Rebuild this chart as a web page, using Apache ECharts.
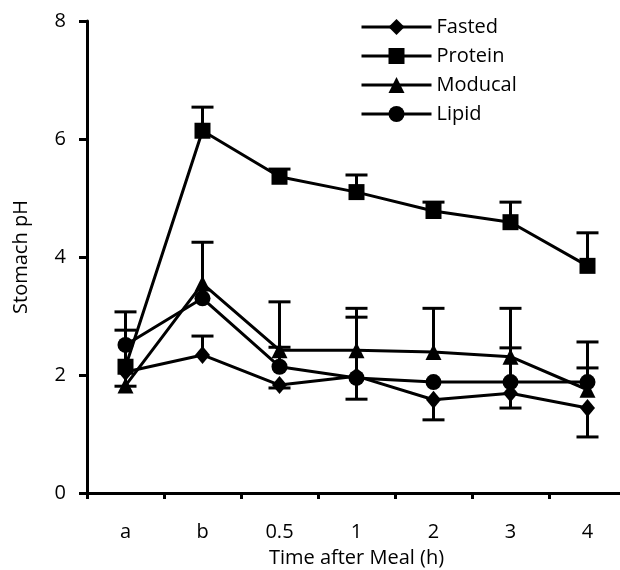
<!DOCTYPE html>
<html lang="en">
<head>
    <meta charset="UTF-8">
    <title>Stomach pH after meal</title>
    <style type="text/css">
        *{
            margin: 0;
            padding: 0;
        }
        #main{
            width: 620px;
            height: 570px;
            position: absolute;
        }
    </style>
</head>
<body>
    <div id="main"></div>
    <script src="https://cdn.jsdelivr.net/npm/echarts@6/dist/echarts.min.js"></script>
    <script type="text/javascript">
        // categories along the x axis
        var times = ['a', 'b', '0.5', '1', '2', '3', '4'];

        // mean pH per group
        var fasted  = [2.05, 2.34, 1.83, 1.98, 1.58, 1.69, 1.44];
        var protein = [2.14, 6.14, 5.36, 5.10, 4.78, 4.59, 3.85];
        var moducal = [1.82, 3.55, 2.42, 2.42, 2.39, 2.31, 1.75];
        var lipid   = [2.51, 3.30, 2.14, 1.95, 1.88, 1.88, 1.88];

        // one-sided error bars (+ up, - down, 0 none)
        var fastedErr  = [-0.24, 0.32, -0.05, -0.39, -0.34, -0.25, -0.49];
        var proteinErr = [0.62, 0.40, 0.13, 0.29, 0.15, 0.34, 0.56];
        var moducalErr = [0, 0.70, 0.82, 0.71, 0.74, 0.82, 0.81];
        var lipidErr   = [0.56, 0, 0.33, 1.03, 0, 0.58, 0.24];

        var font = 'Open Sans';
        var fs = 20;
        var black = '#000000';

        function errData(vals, errs) {
            var out = [];
            vals.forEach(function (v, i) {
                if (errs[i] !== 0) out.push([i, v, +(v + errs[i]).toFixed(2)]);
            });
            return out;
        }

        function renderErr(params, api) {
            var x = api.value(0);
            var p0 = api.coord([x, api.value(1)]);
            var p1 = api.coord([x, api.value(2)]);
            var half = 11;
            var st = {stroke: black, lineWidth: 3};
            return {
                type: 'group',
                children: [
                    {type: 'line', shape: {x1: p0[0], y1: p0[1], x2: p1[0], y2: p1[1]}, style: st},
                    {type: 'line', shape: {x1: p1[0] - half, y1: p1[1], x2: p1[0] + half, y2: p1[1]}, style: st}
                ]
            };
        }

        function lineSeries(name, data, symbol, size) {
            return {
                name: name,
                type: 'line',
                data: data,
                symbol: symbol,
                symbolSize: size,
                showAllSymbol: true,
                z: 3,
                lineStyle: {color: black, width: 3},
                itemStyle: {color: black, borderWidth: 0}
            };
        }

        function errSeries(vals, errs) {
            return {
                type: 'custom',
                renderItem: renderErr,
                encode: {x: 0, y: [1, 2]},
                data: errData(vals, errs),
                z: 2,
                silent: true
            };
        }

        var myChart = echarts.init(document.getElementById('main'));

        var option = {
            animation: false,
            backgroundColor: '#ffffff',
            grid: {left: 87, top: 21, width: 539, height: 472, outerBoundsMode: 'none'},
            legend: {
                orient: 'vertical',
                left: 360,
                top: 17,
                padding: 0,
                itemWidth: 70,
                itemHeight: 20,
                itemGap: 9,
                data: ['Fasted', 'Protein', 'Moducal', 'Lipid'],
                lineStyle: {width: 3},
                textStyle: {fontFamily: font, fontSize: fs, lineHeight: 20, color: black}
            },
            xAxis: {
                type: 'category',
                data: times,
                boundaryGap: true,
                name: 'Time after Meal (h)',
                nameLocation: 'middle',
                nameGap: 55,
                nameTextStyle: {fontFamily: font, fontSize: fs, color: black},
                axisLine: {lineStyle: {color: black, width: 3}},
                axisTick: {show: true, length: 6, lineStyle: {color: black, width: 3}},
                axisLabel: {fontFamily: font, fontSize: fs, color: black, margin: 29},
                splitLine: {show: false}
            },
            yAxis: {
                type: 'value',
                min: 0,
                max: 8,
                interval: 2,
                name: 'Stomach pH',
                nameLocation: 'middle',
                nameGap: 56,
                nameTextStyle: {fontFamily: font, fontSize: fs, color: black},
                axisLine: {show: true, lineStyle: {color: black, width: 3}},
                axisTick: {show: true, length: 8, lineStyle: {color: black, width: 3}},
                axisLabel: {fontFamily: font, fontSize: fs, color: black, margin: 21},
                splitLine: {show: false}
            },
            series: [
                errSeries(fasted, fastedErr),
                errSeries(protein, proteinErr),
                errSeries(moducal, moducalErr),
                errSeries(lipid, lipidErr),
                lineSeries('Fasted', fasted, 'diamond', [15, 18]),
                lineSeries('Protein', protein, 'rect', 16),
                lineSeries('Moducal', moducal, 'triangle', 16),
                lineSeries('Lipid', lipid, 'circle', 16)
            ]
        };

        myChart.setOption(option);
    </script>
</body>
</html>
